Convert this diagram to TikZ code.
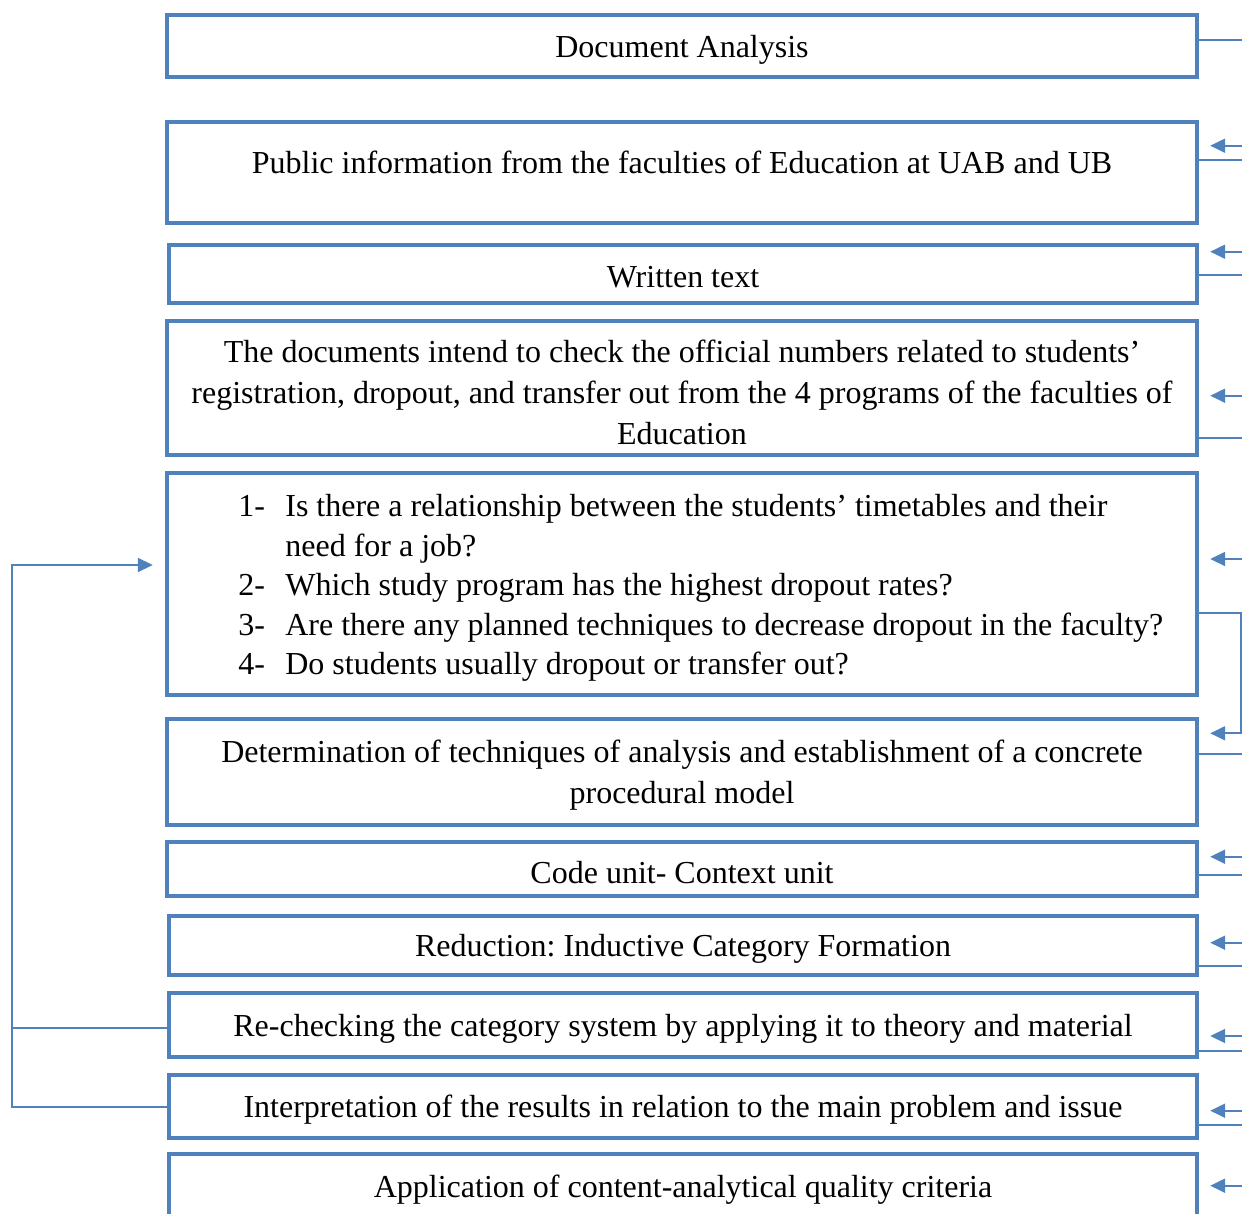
\documentclass[tikz,border=0pt]{standalone}
\usepackage{fontspec}
\setmainfont{Liberation Serif}
\usetikzlibrary{arrows.meta}
\definecolor{boxblue}{HTML}{4F81BD}
\frenchspacing
\tikzset{
  x=0.5pt, y=-0.5pt,
  stepbox/.style={draw=boxblue, line width=2.2pt, rectangle, inner sep=0pt,
    minimum width=515pt, align=center, text depth=0pt,
    font=\fontsize{16}{20.5}\selectfont},
  conn/.style={draw=boxblue, line width=1pt},
  arr/.style={-{Triangle[length=7.5pt,width=7pt]}},
}
\begin{document}
\begin{tikzpicture}
\useasboundingbox (0,0) rectangle (1242,1214);
\clip (0,0) rectangle (1242,1214);

% process steps
\node[stepbox, minimum height=31pt] (b1) at (682,46) {Document Analysis};
\node[stepbox, minimum height=50.5pt] (b2) at (682,172.5)
  {\raisebox{10pt}{Public information from the faculties of Education at UAB and UB}};
\node[stepbox, minimum height=29pt, minimum width=514pt] (b3) at (683,274)
  {\rule{0pt}{13pt}Written text};
\node[stepbox, minimum height=67pt] (b4) at (682,388)
  {\rule{0pt}{15pt}The documents intend to check the official numbers related to students’\\
   registration, dropout, and transfer out from the 4 programs of the faculties of\\
   Education};
\node[stepbox, minimum height=111pt] (b5) at (682,584) {};
\node[anchor=west, inner sep=0pt, font=\fontsize{16}{19.75}\selectfont] (q) at (238,588)
  {\begin{tabular}{@{}p{23.5pt}@{}l@{}}
   1- & Is there a relationship between the students’ timetables and their\\
      & need for a job?\\
   2- & Which study program has the highest dropout rates?\\
   3- & Are there any planned techniques to decrease dropout in the faculty?\\
   4- & Do students usually dropout or transfer out?
   \end{tabular}};
\node[stepbox, minimum height=53pt] (b6) at (682,772)
  {Determination of techniques of analysis and establishment of a concrete\\
   procedural model};
\node[stepbox, minimum height=27pt] (b7) at (682,869)
  {\rule{0pt}{14pt}Code unit- Context unit};
\node[stepbox, minimum height=29.5pt, minimum width=514pt] (b8) at (683,945.5)
  {Reduction: Inductive Category Formation};
\node[stepbox, minimum height=32pt, minimum width=514pt] (b9) at (683,1025)
  {Re-checking the category system by applying it to theory and material};
\node[stepbox, minimum height=31.5pt, minimum width=514pt] (b10) at (683,1106.5)
  {Interpretation of the results in relation to the main problem and issue};
\node[stepbox, minimum height=53pt, minimum width=514pt] (b11) at (683,1207)
  {\raisebox{21pt}{Application of content-analytical quality criteria}};

% links leaving the steps to the right
\foreach \b/\y in {b1/40, b2/160, b3/275, b4/437.7, b6/754, b7/875.3,
                   b8/966, b9/1050.7, b10/1125} {
  \coordinate (out-\b) at (1260,\y);
  \draw[conn] (\b.east |- out-\b) -- (out-\b);
}

% links entering the steps from the right
\foreach \b/\y in {b2/145.7, b3/251.7, b4/395.7, b5/559, b7/856.7,
                   b8/942.7, b9/1036, b10/1110.7, b11/1185.7} {
  \coordinate (in-\b) at (1260,\y);
  \draw[conn, arr] (in-\b) -- ([xshift=5.5pt]\b.east |- in-\b);
}

% questions lead into the choice of techniques
\coordinate (k1) at (1240.7,612.7);
\coordinate (k2) at (1240.7,733.3);
\draw[conn, arr] (b5.east |- k1) -- (k1) -- (k2) -- ([xshift=5.5pt]b6.east |- k2);

% feedback from checking and interpretation back to the questions
\coordinate (l1) at (11.7,565);
\coordinate (l2) at (11.7,1027.7);
\coordinate (l3) at (11.7,1107.3);
\draw[conn] (b9.west |- l2) -- (l2);
\draw[conn, arr] (b10.west |- l3) -- (l3) -- (l1) -- ([xshift=-6pt]b5.west |- l1);
\end{tikzpicture}
\end{document}
